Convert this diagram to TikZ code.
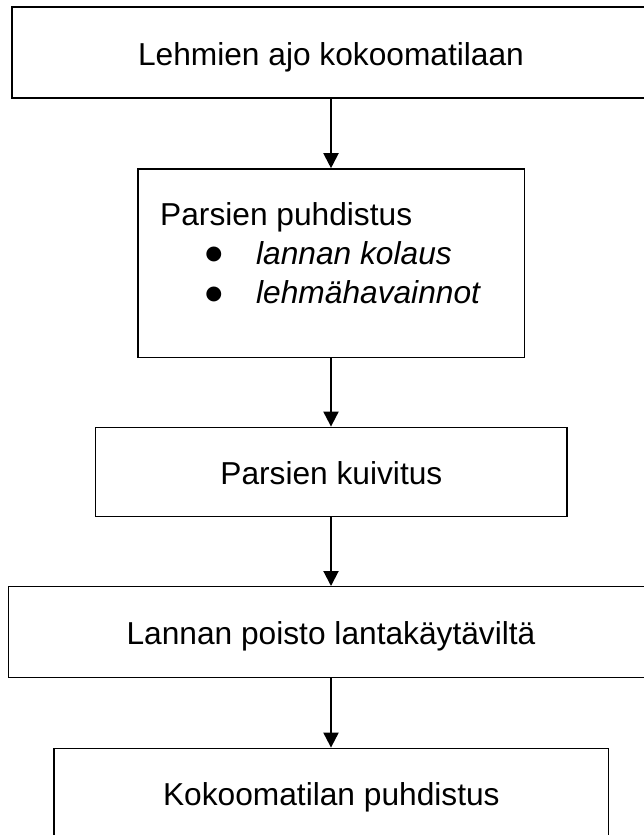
\documentclass[tikz,border=0pt]{standalone}
\usepackage{fontspec}
\setmainfont{Liberation Sans}
\newfontfamily\bulletfont{DejaVu Sans}
\usetikzlibrary{arrows.meta}
\begin{document}
\begin{tikzpicture}[x=1pt,y=-1pt,
  box/.style={draw=black, rectangle, inner sep=0pt, line width=1.4pt,
    font=\fontsize{31.7pt}{39pt}\selectfont, text height=25pt, text depth=0pt, align=center},
  txt/.style={inner sep=0pt, font=\fontsize{31.7pt}{39pt}\selectfont, anchor=base west},
  itxt/.style={txt, font=\fontsize{31.7pt}{39pt}\selectfont\itshape},
  bul/.style={inner sep=0pt, font=\bulletfont\fontsize{19.5pt}{19.5pt}\selectfont, anchor=base},
  conn/.style={line width=2pt, -{Triangle[length=15pt,width=15pt]}}]
\useasboundingbox (0,0) rectangle (644,835);
\clip (0,0) rectangle (644,835);
\node[box, line width=2.2pt, minimum width=638.6pt, minimum height=90.4pt] (b1) at (331,52.5) {Lehmien ajo kokoomatilaan};
\node[box, line width=1.6pt, minimum width=386.6pt, minimum height=188.3pt] (b2) at (331,263.15) {};
\node[txt] (t2) at (160,225.7) {Parsien puhdistus};
\node[bul] (u1) at (214,259.5) {●};
\node[itxt] (i1) at (256,264.3) {lannan kolaus};
\node[bul] (u2) at (214,299) {●};
\node[itxt] (i2) at (256,303.3) {lehmähavainnot};
\node[box, minimum width=471.3pt, minimum height=89.4pt] (b3) at (331.35,472) {Parsien kuivitus};
\node[box, minimum width=644.6pt, minimum height=90.6pt] (b4) at (331,632) {Lannan poisto lantakäytäviltä};
\node[box, minimum width=554.7pt, minimum height=90pt] (b5) at (331.35,793.3) {Kokoomatilan puhdistus};
\draw[conn] (b1.south -| b2.north) -- (b2.north);
\draw[conn] (b2.south) -- (b3.north -| b2.south);
\draw[conn] (b3.south -| b2.south) -- (b4.north -| b2.south);
\draw[conn] (b4.south -| b2.south) -- (b5.north -| b2.south);
\end{tikzpicture}
\end{document}
